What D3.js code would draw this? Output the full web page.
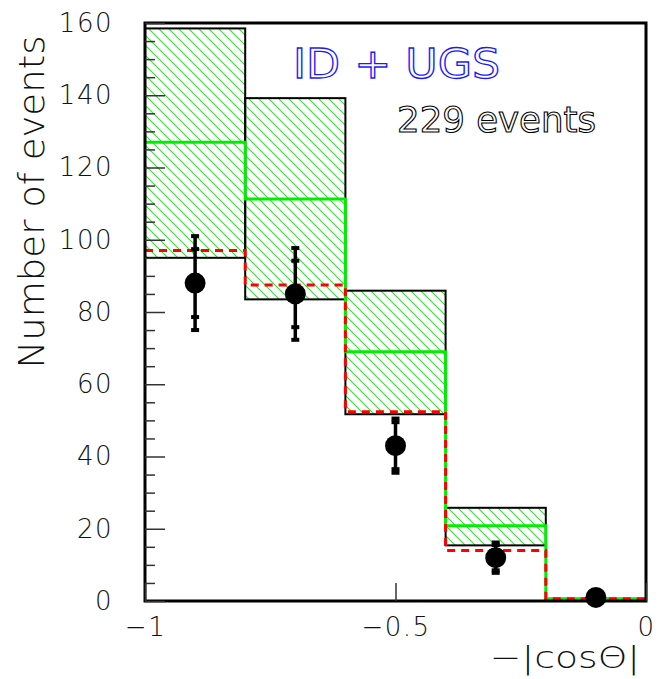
<!DOCTYPE html>
<html>
<head>
<meta charset="utf-8">
<script src="https://cdn.jsdelivr.net/npm/d3@7"></script>
<style>
  html, body { margin: 0; padding: 0; background: #fff; }
  svg { display: block; }
  text { font-family: "DejaVu Sans", sans-serif; }
</style>
</head>
<body>
<svg id="chart" width="664" height="679"></svg>
<script>
// Bins in -|cos(theta)|, width 0.2
const binLow   = [-1.0, -0.8, -0.6, -0.4, -0.2];
const binWidth = 0.2;
const binMid   = [-0.9, -0.7, -0.5, -0.3, -0.1];

// Measured events with statistical and total errors
const dataCounts = [88, 85, 43, 12, 1];
const statErr    = [9.4, 9.2, 6.5, 3.5, 1.0];
const totalErr   = [13.0, 12.7, 7.5, 4.2, 1.0];

// Expectation band (hatched) and its central value
const bandLow    = [95.0, 83.5, 51.7, 15.4, 0.0];
const bandHigh   = [158.5, 139.2, 85.9, 25.8, 0.4];
const bandMid    = [127.0, 111.3, 69.0, 20.8, 0.6];

// Alternative expectation (dashed)
const altCounts  = [97.0, 87.5, 52.4, 14.0, 0.6];

const yMajorTicks = [0, 20, 40, 60, 80, 100, 120, 140, 160];
const xTicks      = [-1, -0.5, 0];

const svg = d3.select("#chart");
const L = 145, R = 646, T = 23, B = 601;
const thinFont = "DejaVu Sans, sans-serif";

const x = d3.scaleLinear().domain([-1, 0]).range([L, R]);
const y = d3.scaleLinear().domain([0, 160]).range([B, T]);

// Hatch pattern for the band
const defs = svg.append("defs");
const pat = defs.append("pattern")
  .attr("id", "hatch")
  .attr("patternUnits", "userSpaceOnUse")
  .attr("width", 10).attr("height", 10);
pat.append("path")
  .attr("d", "M0,0 L10,10 M-5,5 L5,15 M5,-5 L15,5")
  .attr("stroke", "#33dd33")
  .attr("stroke-width", 1.1)
  .attr("fill", "none");

const bins = binLow.map((lo, i) => ({
  lo, hi: lo + binWidth, mid: binMid[i],
  n: dataCounts[i], es: statErr[i], et: totalErr[i],
  bl: bandLow[i], bh: bandHigh[i], bm: bandMid[i], alt: altCounts[i]
}));

const plot = svg.append("g");

// Hatched band boxes
plot.selectAll("rect.band").data(bins).join("rect")
  .attr("class", "band")
  .attr("x", d => x(d.lo))
  .attr("width", d => x(d.hi) - x(d.lo))
  .attr("y", d => y(d.bh))
  .attr("height", d => y(d.bl) - y(d.bh))
  .attr("fill", "url(#hatch)")
  .attr("stroke", "#000")
  .attr("stroke-width", 2);

// Step histogram helper
function stepPath(vals) {
  const pts = [];
  bins.forEach((b, i) => {
    pts.push([x(b.lo), y(vals[i])]);
    pts.push([x(b.hi), y(vals[i])]);
  });
  return d3.line()(pts);
}

plot.append("path")
  .attr("d", stepPath(bandMid))
  .attr("fill", "none")
  .attr("stroke", "#00ee00")
  .attr("stroke-width", 3);

plot.append("path")
  .attr("d", stepPath(altCounts))
  .attr("fill", "none")
  .attr("stroke", "#ff0000")
  .attr("stroke-width", 3)
  .attr("stroke-dasharray", "8,6");

// Data points with error bars
const pts = plot.selectAll("g.pt").data(bins).join("g").attr("class", "pt");
pts.append("line")
  .attr("x1", d => x(d.mid)).attr("x2", d => x(d.mid))
  .attr("y1", d => y(d.n + d.et)).attr("y2", d => y(Math.max(0, d.n - d.et)))
  .attr("stroke", "#000").attr("stroke-width", 3.5);
[["et", 1], ["et", -1], ["es", 1], ["es", -1]].forEach(([k, s]) => {
  pts.append("rect")
    .attr("x", d => x(d.mid) - 4)
    .attr("width", 8)
    .attr("y", d => y(Math.max(0, d.n + s * d[k])) - 2)
    .attr("height", 4)
    .attr("fill", "#000");
});
pts.append("circle")
  .attr("cx", d => x(d.mid))
  .attr("cy", d => y(d.n))
  .attr("r", 10.5)
  .attr("fill", "#000");

// Frame
svg.append("rect")
  .attr("x", L).attr("y", T)
  .attr("width", R - L).attr("height", B - T)
  .attr("fill", "none").attr("stroke", "#000").attr("stroke-width", 3);

// Y axis: major and minor ticks pointing inward
const yAxis = svg.append("g").attr("transform", `translate(${L},0)`)
  .call(d3.axisLeft(y).tickValues(yMajorTicks).tickSize(-20).tickPadding(32).tickFormat(d3.format("d")));
yAxis.select(".domain").remove();
yAxis.selectAll("line").attr("stroke", "#333").attr("stroke-width", 1.5);
yAxis.selectAll("text")
  .attr("font-size", 26).attr("fill", "#111")
  .attr("font-weight", 200)
  .attr("letter-spacing", 1.5)
  .attr("font-family", thinFont);

const yMinor = d3.range(0, 161, 5).filter(v => v % 20 !== 0);
const yAxisMinor = svg.append("g").attr("transform", `translate(${L},0)`)
  .call(d3.axisLeft(y).tickValues(yMinor).tickSize(-10).tickFormat(""));
yAxisMinor.select(".domain").remove();
yAxisMinor.selectAll("line").attr("stroke", "#333").attr("stroke-width", 1.5);

// X axis
const xAxis = svg.append("g").attr("transform", `translate(0,${B})`)
  .call(d3.axisBottom(x).tickValues(xTicks).tickSize(-18).tickPadding(17)
    .tickFormat(d => d === 0 ? "0" : String(d).replace("-", "\u2212")));
xAxis.select(".domain").remove();
xAxis.selectAll("line").attr("stroke", "#333").attr("stroke-width", 1.5);
xAxis.selectAll("text")
  .attr("font-size", 26).attr("fill", "#111")
  .attr("font-weight", 200)
  .attr("letter-spacing", 1.5)
  .attr("font-family", thinFont);

// Axis titles
svg.append("text")
  .attr("transform", "translate(44,202) rotate(-90)")
  .attr("text-anchor", "middle")
  .attr("font-size", 35)
  .attr("font-weight", 200)
  .attr("fill", "#111")
  .attr("textLength", 333)
  .attr("lengthAdjust", "spacingAndGlyphs")
  .text("Number of events");

svg.append("text")
  .attr("x", 640).attr("y", 668)
  .attr("text-anchor", "end")
  .attr("font-size", 31)
  .attr("font-weight", 200)
  .attr("fill", "#111")
  .attr("textLength", 150)
  .attr("lengthAdjust", "spacingAndGlyphs")
  .text("\u2212|cos\u0398|");

// Annotations
svg.append("text")
  .attr("x", 293).attr("y", 78)
  .attr("font-size", 41)
  .attr("fill", "none")
  .attr("stroke", "#1a1aff")
  .attr("stroke-width", 1.3)
  .attr("textLength", 207)
  .attr("lengthAdjust", "spacingAndGlyphs")
  .text("ID + UGS");

svg.append("text")
  .attr("x", 397).attr("y", 132)
  .attr("font-size", 35)
  .attr("fill", "none")
  .attr("stroke", "#000")
  .attr("stroke-width", 1.1)
  .attr("textLength", 199)
  .attr("lengthAdjust", "spacingAndGlyphs")
  .text("229 events");
</script>
</body>
</html>
